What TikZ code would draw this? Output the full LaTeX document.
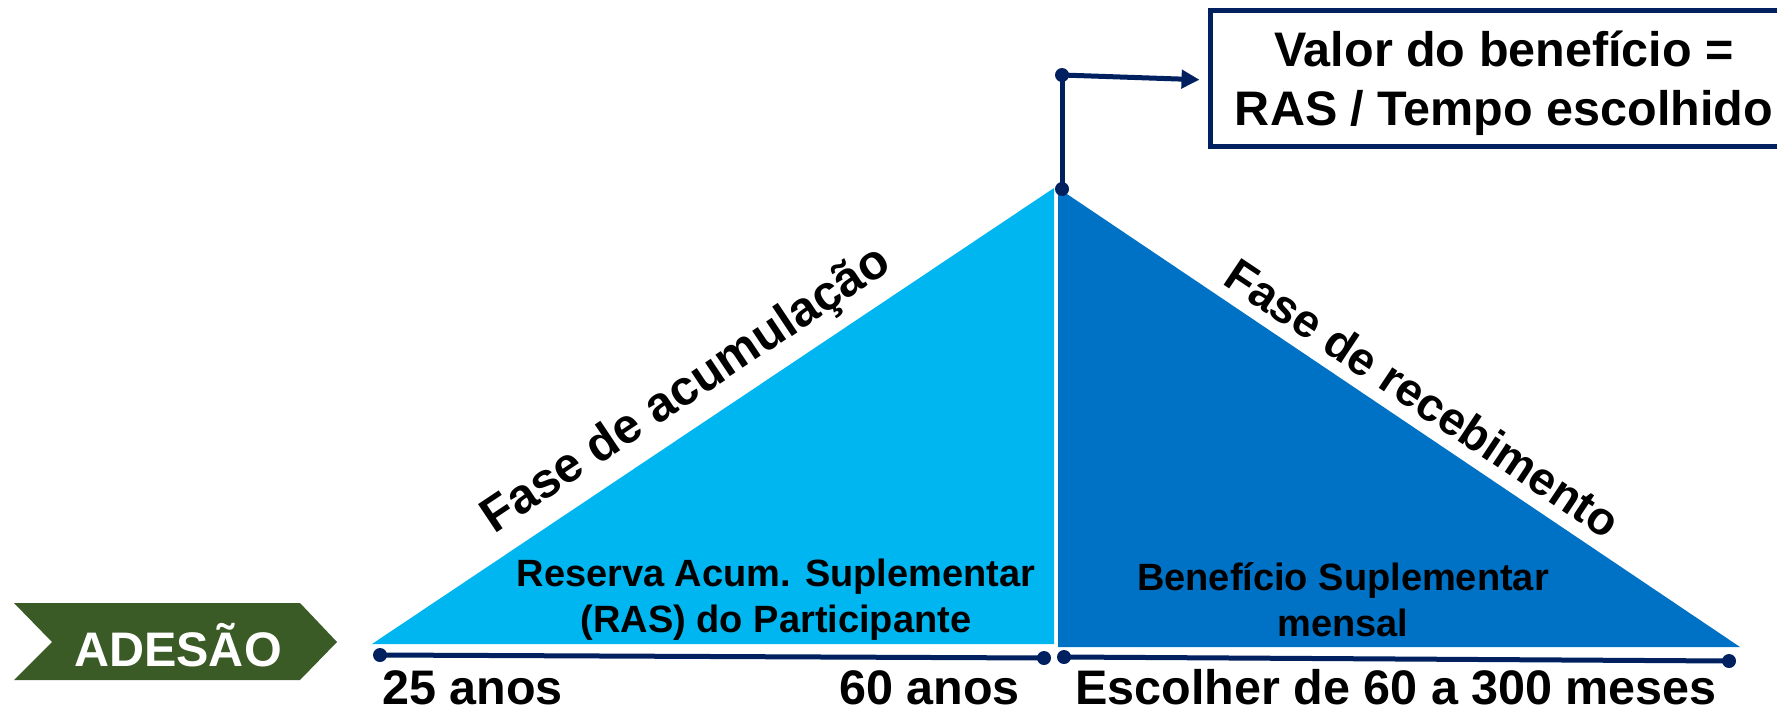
\documentclass[tikz,border=0pt]{standalone}
\usepackage{fontspec}
\setmainfont{Liberation Sans}
\usetikzlibrary{arrows.meta}
\definecolor{navy}{RGB}{0,32,96}
\definecolor{lblue}{RGB}{0,182,240}
\definecolor{dblue}{RGB}{0,114,198}
\definecolor{dgreen}{RGB}{58,91,37}
\begin{document}
\begin{tikzpicture}[x=1pt,y=-1pt,
  navyline/.style={draw=navy,line width=5pt},
  dot/.style={circle,fill=navy,inner sep=0pt,minimum size=14pt},
  biglbl/.style={font=\bfseries\fontsize{#1}{56}\selectfont,text=black,inner sep=0pt},
  midlbl/.style={font=\bfseries\fontsize{38}{46}\selectfont,text=black,align=center,inner sep=0pt},
  axislbl/.style={font=\bfseries\fontsize{48.5}{56}\selectfont,text=black,inner sep=0pt,text depth=0pt,anchor=base west}]
\useasboundingbox (0,0) rectangle (1777,712);
% chevron
\fill[dgreen] (14,603) -- (300,603) -- (337,642) -- (300,680) -- (14,680) -- (52,642) -- cycle;
\node[font=\bfseries\fontsize{48.5}{56}\selectfont,text=white,inner sep=0pt] (adesao) at (178,645) {ADESÃO};
% triangles
\fill[lblue] (372,644) -- (1054,644) -- (1054,188) -- cycle;
\fill[dblue] (1058,188) -- (1058,647) -- (1740,647) -- cycle;
% rotated labels
\node[biglbl=49,rotate=33.7] (acum) at (687,391) {Fase de acumulação};
\node[biglbl=46.5,rotate=-33.7] (receb) at (1423,398) {Fase de recebimento};
% inner labels
\node[midlbl] (ras) at (776,600) {Reserva Acum. Suplementar\\(RAS) do Participante};
\node[midlbl] (benef) at (1343,600) {Benefício Suplementar\\mensal};
% timelines
\node[dot] (t1) at (380,655) {};
\node[dot] (t2) at (1044,658) {};
\node[dot] (t3) at (1064,657) {};
\node[dot] (t4) at (1729,661) {};
\draw[navyline] (t1.center) -- (t2.center);
\draw[navyline] (t3.center) -- (t4.center);
\node[axislbl] (a25) at (382,704) {25 anos};
\node[axislbl] (a60) at (839,704) {60 anos};
\node[axislbl] (esc) at (1075,704) {Escolher de 60 a 300 meses};
% box
\node[draw=navy,line width=5pt,minimum width=588pt,minimum height=136pt,inner sep=0pt] (box) at (1504,78) {};
\node[font=\bfseries\fontsize{48.5}{59}\selectfont,align=center,inner sep=0pt] (boxtxt) at (1504,83)
  {Valor do benefício =\\RAS / Tempo escolhido};
% connector
\node[dot] (apex) at (1062,189) {};
\node[dot] (top) at (1062,75) {};
\draw[navyline] (apex.center) -- (top.center);
\draw[navyline,-{Triangle[length=18pt,width=18pt]},shorten >=8pt] (top.center) -- (box.west |- 0,80);
\end{tikzpicture}
\end{document}
